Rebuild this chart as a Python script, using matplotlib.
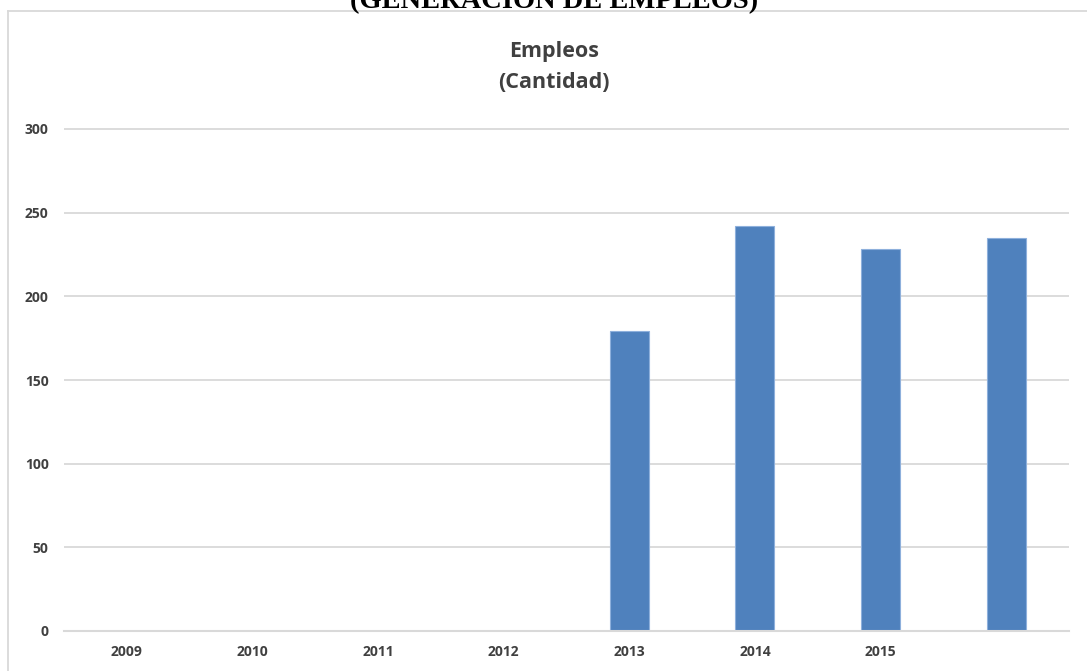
import matplotlib
matplotlib.use("Agg")
import matplotlib.pyplot as plt
from matplotlib.lines import Line2D

categories = ["2009", "2010", "2011", "2012", "2013", "2014", "2015", ""]
empleos = [0, 0, 0, 0, 179, 242, 228, 235]
yticks = [0, 50, 100, 150, 200, 250, 300]

W, H = 1087, 671
fig = plt.figure(figsize=(W / 100, H / 100), dpi=100)
fig.patch.set_facecolor("white")

# chart area border (top and left visible)
fig.add_artist(Line2D([8 / W, 1.0], [1 - 10.7 / H] * 2, color="#d9d9d9", lw=1.3,
                      transform=fig.transFigure))
fig.add_artist(Line2D([8 / W] * 2, [0, 1 - 10.7 / H], color="#d9d9d9", lw=1.3,
                      transform=fig.transFigure))

# cut-off document heading (partly outside the picture, as in the reference)
fig.text(554 / W, 1 - 7 / H, "(GENERACIÓN DE EMPLEOS)", ha="center", va="baseline",
         fontsize=20.5, fontweight="bold", family="Liberation Serif", color="black")

ax_l, ax_r = 64 / W, 1069 / W
y0_px, top_px = 631, 120
ax_b = 1 - y0_px / H
ax_t = 1 - top_px / H
ax = fig.add_axes([ax_l, ax_b, ax_r - ax_l, ax_t - ax_b])
ymax = 300 * (y0_px - top_px) / (631 - 129)

x = list(range(len(categories)))
ax.bar(x, empleos, width=0.31, color="#4f81bd", edgecolor="#8eb0dc", linewidth=0.8,
       zorder=3)
ax.set_xlim(-0.5, len(categories) - 0.5)
ax.set_ylim(0, ymax)
ax.set_yticks(yticks)
ax.set_xticks(x)
ax.set_xticklabels(categories)
ax.yaxis.grid(True, color="#d9d9d9", lw=1.3, zorder=0)
ax.set_axisbelow(True)
for s in ["top", "right", "left"]:
    ax.spines[s].set_visible(False)
ax.spines["bottom"].set_color("#d9d9d9")
ax.spines["bottom"].set_linewidth(1.5)
ax.spines["bottom"].set_zorder(4)
ax.tick_params(axis="both", length=0, labelcolor="#404040", labelsize=10)
ax.tick_params(axis="y", pad=11)
ax.tick_params(axis="x", pad=10)
for lbl in ax.get_xticklabels() + ax.get_yticklabels():
    lbl.set_fontweight("bold")
    lbl.set_family("Open Sans")

fig.text(554 / W, 1 - 57 / H, "Empleos", ha="center", va="baseline", fontsize=15.5,
         fontweight="bold", family="Open Sans", color="#404040")
fig.text(554 / W, 1 - 88 / H, "(Cantidad)", ha="center", va="baseline", fontsize=15.5,
         fontweight="bold", family="Open Sans", color="#404040")

fig.savefig("out.png", dpi=100, facecolor="white")
